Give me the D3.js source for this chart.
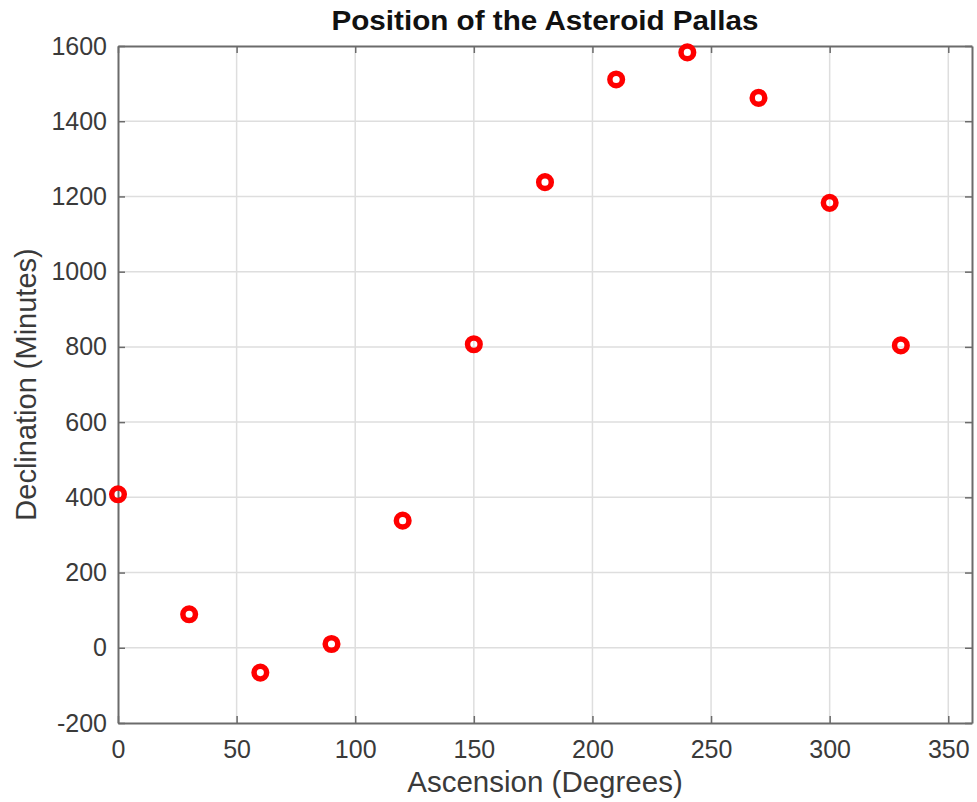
<!DOCTYPE html>
<html>
<head>
<meta charset="utf-8">
<script src="https://cdn.jsdelivr.net/npm/d3@7"></script>
<style>
  html, body { margin: 0; padding: 0; background: #fff; }
  svg { display: block; }
  text { font-family: "Liberation Sans", Arial, Helvetica, sans-serif; }
</style>
</head>
<body>
<svg id="chart" width="977" height="802"></svg>
<script>
// Data (Gauss's Pallas observations)
const ascension = [0, 30, 60, 90, 120, 150, 180, 210, 240, 270, 300, 330];
const declination = [408, 89, -66, 10, 338, 807, 1238, 1511, 1583, 1462, 1183, 804];
const xTicks = [0, 50, 100, 150, 200, 250, 300, 350];
const yTicks = [-200, 0, 200, 400, 600, 800, 1000, 1200, 1400, 1600];
const titleText = "Position of the Asteroid Pallas";
const xLabelText = "Ascension (Degrees)";
const yLabelText = "Declination (Minutes)";

const svg = d3.select("#chart");
const mLeft = 118, mRight = 972, mTop = 46, mBottom = 723;

const x = d3.scaleLinear().domain([0, 360]).range([mLeft, mRight]);
const y = d3.scaleLinear().domain([-200, 1600]).range([mBottom, mTop]);

const textColor = "#3a3a3a";
const axisColor = "#6b6b6b";
const fmt = d => String(d);

// grid
const grid = svg.append("g");
grid.selectAll(".gx").data(xTicks.filter(d => d > 0)).enter().append("line")
  .attr("x1", d => x(d)).attr("x2", d => x(d))
  .attr("y1", mTop).attr("y2", mBottom)
  .attr("stroke", "#dedede").attr("stroke-width", 1.5);
grid.selectAll(".gy").data(yTicks.filter(d => d > -200 && d < 1600)).enter().append("line")
  .attr("y1", d => y(d)).attr("y2", d => y(d))
  .attr("x1", mLeft).attr("x2", mRight)
  .attr("stroke", "#dedede").attr("stroke-width", 1.5);

// axes
const fontTick = "25px";
const xAxis = d3.axisBottom(x).tickValues(xTicks).tickFormat(fmt).tickSizeInner(-7).tickSizeOuter(0).tickPadding(17);
const xTopAxis = d3.axisTop(x).tickValues(xTicks).tickSizeInner(-7).tickSizeOuter(0).tickFormat("");
const yAxis = d3.axisLeft(y).tickValues(yTicks).tickFormat(fmt).tickSizeInner(-7).tickSizeOuter(0).tickPadding(11);
const yRightAxis = d3.axisRight(y).tickValues(yTicks).tickSizeInner(-7).tickSizeOuter(0).tickFormat("");

function styleAxis(g) {
  g.select(".domain").attr("stroke", axisColor).attr("stroke-width", 2);
  g.selectAll(".tick line").attr("stroke", axisColor).attr("stroke-width", 1.5);
  g.selectAll(".tick text").attr("fill", textColor).style("font-size", fontTick)
    .style("font-family", "'Liberation Sans', Arial, sans-serif");
}

svg.append("g").attr("transform", `translate(0,${mBottom})`).call(xAxis).call(styleAxis);
svg.append("g").attr("transform", `translate(0,${mTop})`).call(xTopAxis).call(styleAxis);
svg.append("g").attr("transform", `translate(${mLeft},0)`).call(yAxis).call(styleAxis);
svg.append("g").attr("transform", `translate(${mRight},0)`).call(yRightAxis).call(styleAxis);

// points
svg.append("g").selectAll("circle").data(ascension).enter().append("circle")
  .attr("cx", (d) => x(d))
  .attr("cy", (d, i) => y(declination[i]))
  .attr("r", 6.3)
  .attr("fill", "none")
  .attr("stroke", "#ff0000")
  .attr("stroke-width", 5.5);

// title
svg.append("text")
  .attr("x", (mLeft + mRight) / 2).attr("y", 30)
  .attr("text-anchor", "middle")
  .attr("textLength", 427).attr("lengthAdjust", "spacingAndGlyphs")
  .style("font-size", "28px").style("font-weight", "bold")
  .attr("fill", "#111")
  .text(titleText);

// x label
svg.append("text")
  .attr("x", (mLeft + mRight) / 2).attr("y", 792)
  .attr("text-anchor", "middle")
  .style("font-size", "29.5px")
  .attr("fill", textColor)
  .text(xLabelText);

// y label
svg.append("text")
  .attr("transform", `translate(36,${(mTop + mBottom) / 2}) rotate(-90)`)
  .attr("text-anchor", "middle")
  .style("font-size", "29px")
  .attr("fill", textColor)
  .text(yLabelText);
</script>
</body>
</html>
